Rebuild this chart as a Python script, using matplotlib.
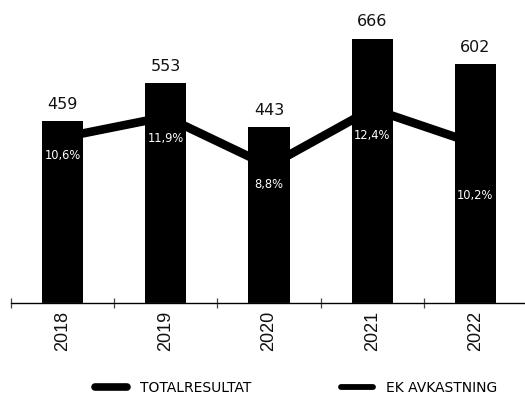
import matplotlib.pyplot as plt
from matplotlib.lines import Line2D

years = ["2018", "2019", "2020", "2021", "2022"]
totalresultat = [459, 553, 443, 666, 602]
ek_avkastning = [10.6, 11.9, 8.8, 12.4, 10.2]
pct_labels = ["10,6%", "11,9%", "8,8%", "12,4%", "10,2%"]

# how far below the line each percent label sits (points)
pct_offsets = [13, 15.5, 13.3, 19.4, 37.4]

W, H = 525, 396
fig = plt.figure(figsize=(W / 100, H / 100), dpi=100)
ax = fig.add_axes([11 / W, 1 - 303 / H, 516 / W, 303 / H])
ax2 = ax.twinx()

x = list(range(len(years)))
ax.bar(x, totalresultat, width=0.4, color="black", zorder=2)
ax.set_xlim(-0.5, len(years) - 0.5)
ax.set_ylim(0, 763)

for xi, v in zip(x, totalresultat):
    ax.annotate(str(v), (xi, v), xytext=(0, 12), textcoords="offset points",
                ha="center", va="center", fontsize=11.5, color="#111",
                family="DejaVu Sans")

ax2.plot(x, ek_avkastning, color="black", lw=6.2, zorder=3)
ax2.set_ylim(0.17, 19.26)
for xi, v, lab, off in zip(x, ek_avkastning, pct_labels, pct_offsets):
    ax2.annotate(lab, (xi, v), xytext=(0, -off), textcoords="offset points",
                 ha="center", va="center", fontsize=8.3, color="white",
                 family="DejaVu Sans", zorder=4)

# axis styling: only the bottom line with crossing ticks between groups
for a in (ax, ax2):
    for s in ("top", "right", "left"):
        a.spines[s].set_visible(False)
    a.set_yticks([])
ax.spines["bottom"].set_color("#444")
ax.spines["bottom"].set_linewidth(1.0)
ax.set_xticks([i - 0.5 for i in range(len(years) + 1)])
ax.set_xticklabels([])
ax.tick_params(axis="x", direction="inout", length=7, width=0.9, color="#444")
ax.set_xticks(x, minor=True)
ax.set_xticklabels(years, minor=True, rotation=90, fontsize=13,
                   family="Liberation Sans", color="#111")
ax.tick_params(axis="x", which="minor", length=0, pad=5.5)

handles = [
    Line2D([], [], color="black", lw=5.5, solid_capstyle="round"),
    Line2D([], [], color="black", lw=4.2, solid_capstyle="round"),
]
fig.legend(handles, ["TOTALRESULTAT", "EK AVKASTNING"], loc="center",
           bbox_to_anchor=(296 / W, 1 - 387.5 / H), ncol=2, frameon=False,
           handlelength=2.3, handletextpad=0.9, columnspacing=6.5,
           borderpad=0.2, prop={"family": "DejaVu Sans", "size": 10})

fig.savefig("out.png", dpi=100)
